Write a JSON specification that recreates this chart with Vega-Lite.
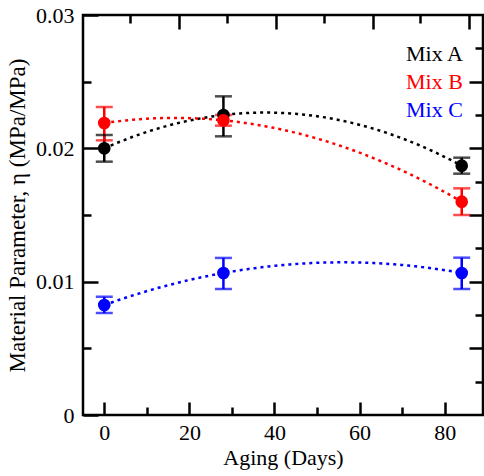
{
  "$schema": "https://vega.github.io/schema/vega-lite/v6.json",
  "width": 400,
  "height": 400,
  "autosize": {"type": "none"},
  "padding": {"left": 83, "top": 15, "right": 1, "bottom": 61},
  "background": "white",
  "config": {
    "view": {"stroke": "black", "strokeWidth": 2.5},
    "font": "Liberation Serif",
    "axis": {
      "grid": false,
      "domain": false,
      "tickColor": "black",
      "tickWidth": 2.5,
      "labelFont": "Liberation Serif",
      "labelFontSize": 22,
      "labelColor": "black",
      "titleFont": "Liberation Serif",
      "titleFontSize": 22,
      "titleFontWeight": "normal",
      "titleColor": "black",
      "labelFlush": false,
      "labelOverlap": false
    }
  },
  "data": {
    "values": [
      {"mix": "Mix A", "day": 0, "eta": 0.0200, "lo": 0.0190, "hi": 0.0210},
      {"mix": "Mix A", "day": 28, "eta": 0.0225, "lo": 0.0209, "hi": 0.0239},
      {"mix": "Mix A", "day": 84, "eta": 0.0187, "lo": 0.0181, "hi": 0.0193},
      {"mix": "Mix B", "day": 0, "eta": 0.0219, "lo": 0.0206, "hi": 0.0231},
      {"mix": "Mix B", "day": 28, "eta": 0.0221, "lo": 0.0217, "hi": 0.0225},
      {"mix": "Mix B", "day": 84, "eta": 0.0160, "lo": 0.0150, "hi": 0.0170},
      {"mix": "Mix C", "day": 0, "eta": 0.00825, "lo": 0.00765, "hi": 0.00887},
      {"mix": "Mix C", "day": 28, "eta": 0.01065, "lo": 0.00945, "hi": 0.01178},
      {"mix": "Mix C", "day": 84, "eta": 0.01065, "lo": 0.00945, "hi": 0.0118}
    ]
  },
  "resolve": {"axis": {"x": "independent", "y": "independent"}},
  "layer": [
    {
      "transform": [{"regression": "eta", "on": "day", "groupby": ["mix"], "method": "poly", "order": 2}],
      "mark": {"type": "line", "strokeDash": [3, 4], "strokeWidth": 2.5},
      "encoding": {
        "x": {"field": "day", "type": "quantitative", "scale": {"domain": [-5, 89], "nice": false, "zero": false},
          "axis": {"orient": "bottom", "values": [0, 20, 40, 60, 80], "tickSize": -13, "format": "d", "title": "Aging (Days)", "labelPadding": 20, "titlePadding": 4}},
        "y": {"field": "eta", "type": "quantitative", "scale": {"domain": [0, 0.03], "nice": false},
          "axis": {"orient": "left", "values": [0, 0.01, 0.02, 0.03], "tickSize": -15, "format": ".2~f", "title": "Material Parameter, η (MPa/MPa)", "titleFontSize": 23, "labelPadding": 24, "titlePadding": 6}},
        "color": {"field": "mix", "type": "nominal", "scale": {"domain": ["Mix A", "Mix B", "Mix C"], "range": ["black", "red", "blue"]},
          "legend": {"orient": "none", "legendX": 301, "legendY": 28, "title": null, "symbolSize": 1, "symbolOpacity": 0, "labelOffset": 0, "labelFont": "Liberation Serif", "labelFontSize": 22, "rowPadding": 6,
            "encode": {"labels": {"update": {"fill": {"scale": "color", "field": "value"}}}}}}
      }
    },
    {
      "mark": {"type": "rule", "strokeWidth": 2.5},
      "encoding": {
        "x": {"field": "day", "type": "quantitative", "scale": {"domain": [-5, 89], "nice": false, "zero": false},
          "axis": {"orient": "bottom", "values": [10, 30, 50, 70], "tickSize": -8, "labels": false, "title": null}},
        "y": {"field": "lo", "type": "quantitative", "scale": {"domain": [0, 0.03], "nice": false},
          "axis": {"orient": "left", "values": [0.005, 0.015, 0.025], "tickSize": -8, "labels": false, "title": null}},
        "y2": {"field": "hi"},
        "color": {"field": "mix", "type": "nominal", "scale": {"domain": ["Mix A", "Mix B", "Mix C"], "range": ["black", "red", "blue"]},
          "legend": {"orient": "none", "legendX": 301, "legendY": 28, "title": null, "symbolSize": 1, "symbolOpacity": 0, "labelOffset": 0, "labelFont": "Liberation Serif", "labelFontSize": 22, "rowPadding": 6,
            "encode": {"labels": {"update": {"fill": {"scale": "color", "field": "value"}}}}}}
      }
    },
    {
      "mark": {"type": "tick", "orient": "horizontal", "size": 17, "thickness": 2.5},
      "encoding": {
        "x": {"field": "day", "type": "quantitative", "scale": {"domain": [-5, 89], "nice": false, "zero": false},
          "axis": {"orient": "top", "values": [17.5, 40.3, 63.1, 85.6], "tickSize": -14, "labels": false, "title": null}},
        "y": {"field": "lo", "type": "quantitative", "scale": {"domain": [0, 0.03], "nice": false},
          "axis": {"orient": "right", "values": [0.005, 0.01, 0.015, 0.02, 0.025], "tickSize": -14, "labels": false, "title": null}},
        "color": {"field": "mix", "type": "nominal", "scale": {"domain": ["Mix A", "Mix B", "Mix C"], "range": ["black", "red", "blue"]},
          "legend": {"orient": "none", "legendX": 301, "legendY": 28, "title": null, "symbolSize": 1, "symbolOpacity": 0, "labelOffset": 0, "labelFont": "Liberation Serif", "labelFontSize": 22, "rowPadding": 6,
            "encode": {"labels": {"update": {"fill": {"scale": "color", "field": "value"}}}}}}
      }
    },
    {
      "mark": {"type": "tick", "orient": "horizontal", "size": 17, "thickness": 2.5},
      "encoding": {
        "x": {"field": "day", "type": "quantitative", "scale": {"domain": [-5, 89], "nice": false, "zero": false},
          "axis": {"orient": "top", "values": [6.1, 28.8, 51.6, 74.3], "tickSize": -8, "labels": false, "title": null}},
        "y": {"field": "hi", "type": "quantitative", "scale": {"domain": [0, 0.03], "nice": false},
          "axis": {"orient": "right", "values": [0.0025, 0.0075, 0.0125, 0.0175, 0.0225, 0.0275], "tickSize": -8, "labels": false, "title": null}},
        "color": {"field": "mix", "type": "nominal", "scale": {"domain": ["Mix A", "Mix B", "Mix C"], "range": ["black", "red", "blue"]},
          "legend": {"orient": "none", "legendX": 301, "legendY": 28, "title": null, "symbolSize": 1, "symbolOpacity": 0, "labelOffset": 0, "labelFont": "Liberation Serif", "labelFontSize": 22, "rowPadding": 6,
            "encode": {"labels": {"update": {"fill": {"scale": "color", "field": "value"}}}}}}
      }
    },
    {
      "mark": {"type": "circle", "size": 160, "opacity": 1},
      "encoding": {
        "x": {"field": "day", "type": "quantitative", "scale": {"domain": [-5, 89], "nice": false, "zero": false}, "axis": null},
        "y": {"field": "eta", "type": "quantitative", "scale": {"domain": [0, 0.03], "nice": false}, "axis": null},
        "color": {"field": "mix", "type": "nominal", "scale": {"domain": ["Mix A", "Mix B", "Mix C"], "range": ["black", "red", "blue"]},
          "legend": {"orient": "none", "legendX": 301, "legendY": 28, "title": null, "symbolSize": 1, "symbolOpacity": 0, "labelOffset": 0, "labelFont": "Liberation Serif", "labelFontSize": 22, "rowPadding": 6,
            "encode": {"labels": {"update": {"fill": {"scale": "color", "field": "value"}}}}}}
      }
    }
  ]
}
